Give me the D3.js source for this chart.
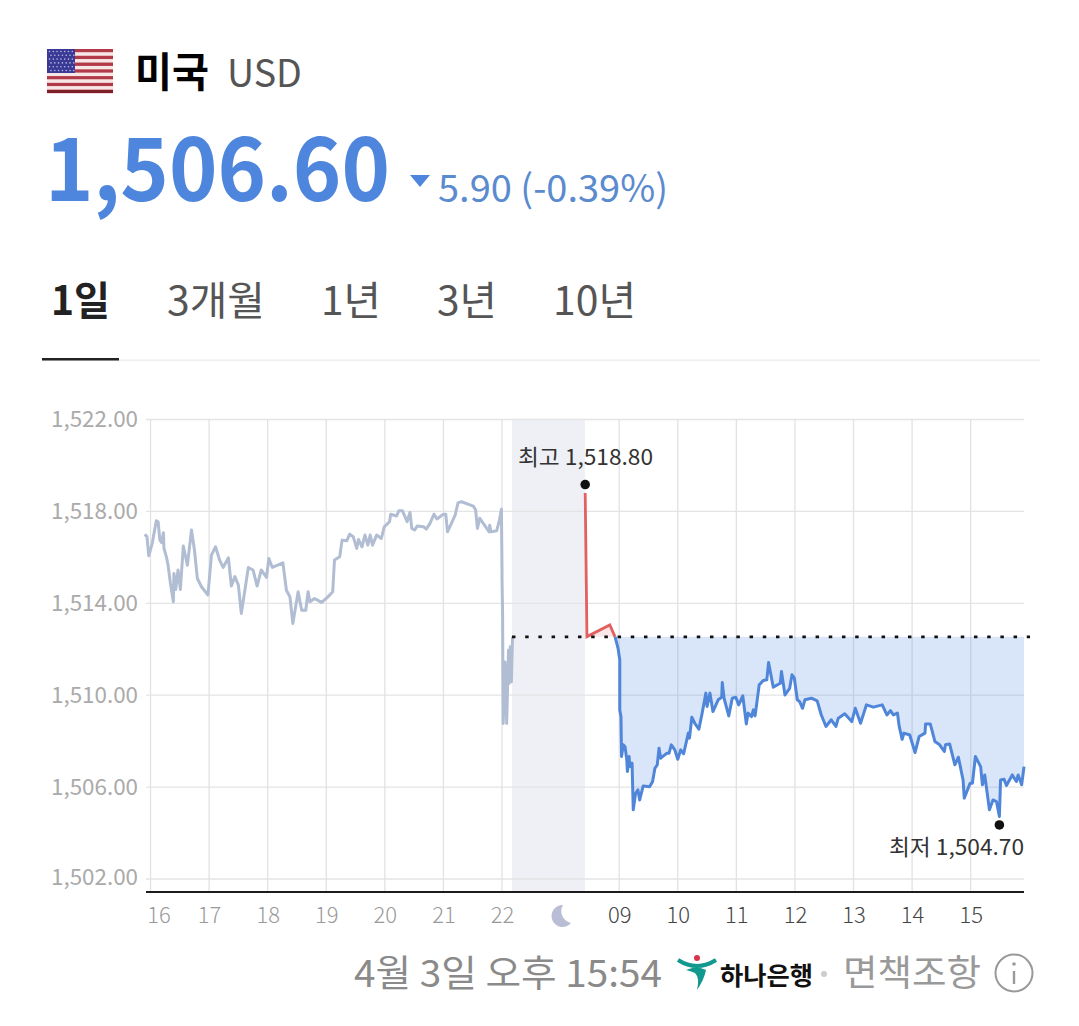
<!DOCTYPE html>
<html><head><meta charset="utf-8">
<script src="https://cdn.jsdelivr.net/npm/d3@7"></script>
<style>html,body{margin:0;padding:0;background:#fff}svg{display:block}text{font-family:"Noto Sans CJK KR","Noto Sans",sans-serif}</style>
</head><body><svg id="c" width="1079" height="1026"></svg>
<script>
const yTicks=[1522,1518,1514,1510,1506,1502];
const xTickPos=[0,1,2,3,4,5,6,8,9,10,11,12,13,14];
const xTickLabels=["16","17","18","19","20","21","22","09","10","11","12","13","14","15"];
const tabs=["1일","3개월","1년","3년","10년"];
const prevClose=1512.54;
const nightBand=[6.17,7.415];
const highPoint={t:7.42,v:1518.8,label:"최고 1,518.80"};
const lowPoint={t:14.49,v:1504.7,label:"최저 1,504.70"};
const preT=[-0.10,-0.06,-0.03,0.03,0.07,0.10,0.13,0.16,0.19,0.22,0.23,0.27,0.30,0.34,0.39,0.40,0.43,0.47,0.51,0.56,0.63,0.70,0.75,0.80,0.87,0.98,1.04,1.11,1.18,1.24,1.33,1.38,1.44,1.50,1.55,1.67,1.75,1.82,1.89,1.98,2.02,2.08,2.26,2.32,2.38,2.43,2.52,2.58,2.65,2.69,2.72,2.80,2.92,3.03,3.11,3.14,3.23,3.27,3.35,3.40,3.46,3.52,3.55,3.61,3.66,3.71,3.75,3.79,3.86,3.94,3.99,4.08,4.10,4.20,4.24,4.30,4.38,4.43,4.46,4.51,4.55,4.66,4.71,4.77,4.84,4.89,5.00,5.04,5.07,5.20,5.25,5.31,5.51,5.55,5.58,5.62,5.74,5.78,5.79,5.81,5.91,5.95,5.99,6.00,6.00,6.01,6.02,6.05,6.08,6.11,6.12,6.14,6.16,6.18];
const preV=[1517.00,1516.90,1516.07,1516.61,1517.19,1517.59,1517.55,1516.75,1516.64,1517.07,1516.39,1516.03,1515.66,1514.87,1514.07,1515.30,1514.60,1515.45,1514.60,1516.49,1515.66,1517.19,1516.32,1515.08,1514.72,1514.36,1516.10,1516.46,1515.88,1515.56,1515.98,1514.75,1515.16,1514.79,1513.56,1515.56,1515.45,1514.75,1515.45,1515.13,1515.95,1515.56,1515.76,1514.57,1514.28,1513.12,1514.50,1513.70,1513.70,1514.50,1514.07,1514.21,1514.04,1514.28,1514.50,1515.88,1516.03,1516.75,1516.72,1517.01,1516.90,1516.39,1516.78,1516.46,1516.97,1516.53,1516.97,1516.53,1516.97,1516.82,1517.33,1517.55,1517.88,1517.80,1518.03,1518.03,1517.55,1517.96,1517.26,1517.19,1517.36,1517.33,1517.23,1517.48,1517.88,1517.67,1517.88,1517.88,1517.11,1517.84,1518.38,1518.42,1518.23,1518.06,1517.26,1517.70,1517.26,1517.11,1517.40,1517.11,1517.16,1517.55,1518.09,1515.45,1515.08,1513.56,1508.77,1511.45,1508.77,1511.96,1510.51,1512.11,1510.58,1512.54];
const upT=[7.42,7.45,7.84,7.93];
const upV=[1518.8,1512.55,1513.06,1512.54];
const downT=[7.93,7.98,8.01,8.01,8.03,8.04,8.07,8.10,8.13,8.14,8.17,8.18,8.22,8.24,8.28,8.32,8.35,8.41,8.52,8.57,8.61,8.65,8.68,8.71,8.81,8.85,8.89,8.95,9.00,9.05,9.10,9.18,9.20,9.24,9.29,9.36,9.41,9.48,9.50,9.55,9.60,9.69,9.75,9.76,9.79,9.87,9.93,9.99,10.04,10.11,10.17,10.20,10.26,10.29,10.32,10.39,10.46,10.52,10.55,10.63,10.75,10.77,10.83,10.91,10.95,10.99,11.04,11.08,11.13,11.17,11.28,11.38,11.45,11.53,11.62,11.70,11.74,11.85,11.97,12.03,12.12,12.22,12.34,12.49,12.57,12.63,12.68,12.75,12.78,12.83,12.86,12.96,13.05,13.12,13.22,13.23,13.31,13.39,13.47,13.55,13.57,13.64,13.73,13.79,13.87,13.89,13.99,14.03,14.08,14.17,14.20,14.24,14.32,14.38,14.44,14.49,14.51,14.57,14.61,14.71,14.78,14.81,14.87,14.91];
const downV=[1512.54,1512.05,1511.54,1509.36,1509.07,1507.33,1507.84,1507.76,1507.18,1506.68,1507.33,1506.89,1507.04,1505.01,1505.73,1505.88,1505.44,1506.05,1506.02,1506.24,1506.82,1506.97,1507.69,1507.26,1507.47,1507.47,1507.84,1507.62,1507.21,1507.62,1507.45,1508.35,1508.13,1509.04,1508.78,1508.52,1509.14,1510.09,1509.51,1510.09,1509.29,1509.80,1509.91,1510.55,1509.87,1509.10,1509.87,1509.91,1509.58,1509.97,1508.75,1509.22,1509.07,1509.36,1509.10,1510.45,1510.64,1510.67,1511.42,1510.35,1510.52,1511.03,1510.01,1510.30,1510.89,1510.74,1509.80,1509.72,1509.43,1509.80,1509.87,1509.75,1509.14,1508.64,1508.93,1508.64,1509.00,1509.19,1508.85,1509.43,1508.78,1509.58,1509.48,1509.58,1509.14,1509.33,1509.14,1509.22,1508.64,1508.08,1508.35,1508.27,1507.50,1508.20,1508.35,1508.75,1508.75,1507.98,1507.84,1507.55,1507.84,1507.88,1506.97,1507.30,1506.31,1505.52,1506.17,1506.17,1507.33,1506.89,1506.10,1506.53,1505.01,1505.44,1505.37,1504.72,1506.31,1506.34,1506.07,1506.53,1506.24,1506.53,1506.10,1506.89];

const svg=d3.select("#c");
const font='"Noto Sans CJK KR","Noto Sans",sans-serif';
const x=d3.scaleLinear().domain([0,14.91]).range([150.5,1024]);
const y=d3.scaleLinear().domain([1522,1502]).range([419.5,879]);
const bottomY=892;

function txt(s,px,py,size,fill,weight,w){
  const t=svg.append("text").attr("x",px).attr("y",py).attr("font-size",size).attr("fill",fill)
    .attr("font-weight",weight||400).text(s);
  if(w) t.attr("textLength",w).attr("lengthAdjust","spacingAndGlyphs");
  return t;
}
// Header
const flag=svg.append("g");
d3.range(13).forEach(i=>flag.append("rect").attr("x",47).attr("y",49+i*44/13).attr("width",66).attr("height",44/13+.2)
  .attr("fill",i%2?"#f6e6e6":"#b23a48"));
flag.append("rect").attr("x",47).attr("y",49).attr("width",28).attr("height",24).attr("fill","#3a3a96");
d3.range(6).forEach(r=>d3.range(7).forEach(c=>flag.append("circle").attr("cx",49.5+c*3.8+(r%2)*1.5).attr("cy",51.5+r*3.8).attr("r",.8).attr("fill","#b9b9e0")));
flag.append("rect").attr("x",47).attr("y",90).attr("width",66).attr("height",3).attr("fill","#7d2027");
txt("미국",135,87,41,"#000",700,74);
txt("USD",227,87,38,"#555",400,75);
txt("1,506.60",45,201,88,"#4f86dd",700,345);
svg.append("path").attr("d","M410,175L430,175L420,187Z").attr("fill","#4f86dd");
txt("5.90 (-0.39%)",438,202,38,"#5b8bcf",400,230);
const tabX=[51,167,321,437,553], tabW=[59,98,60,60,83];
tabs.forEach((t,i)=>txt(t,tabX[i],315,40,i?"#555":"#222",i?400:700,tabW[i]));
svg.append("rect").attr("x",42).attr("y",359.5).attr("width",998).attr("height",1.5).attr("fill","#eeeeee");
svg.append("rect").attr("x",42).attr("y",358).attr("width",77).attr("height",2.5).attr("fill","#222");

// Night band
svg.append("rect").attr("x",x(nightBand[0])).attr("y",419).attr("width",x(nightBand[1])-x(nightBand[0])).attr("height",bottomY-419).attr("fill","#eff0f5");

// Y axis + grid
const ya=svg.append("g").attr("transform","translate(146,0)")
  .call(d3.axisLeft(y).tickValues(yTicks).tickSize(0).tickPadding(8).tickFormat(d=>d3.format(",.2f")(d)));
ya.select(".domain").remove();
ya.selectAll("text").attr("font-size",22.5).attr("fill","#aaaaaa").style("font-family",font).attr("x",-8).attr("dy","0.32em")
  .attr("textLength",87).attr("lengthAdjust","spacingAndGlyphs");
ya.selectAll(".tick").filter(d=>d===1502).select("text").attr("y",-2);
svg.append("g").selectAll("line").data(yTicks).join("line").attr("x1",146).attr("x2",1024)
  .attr("y1",d=>y(d)).attr("y2",d=>y(d)).attr("stroke","#e4e4e4").attr("stroke-width",1.3);

// X axis + grid
svg.append("g").selectAll("line").data(xTickPos).join("line").attr("x1",d=>x(d)).attr("x2",d=>x(d))
  .attr("y1",419).attr("y2",bottomY).attr("stroke","#e2e2e6").attr("stroke-width",1.3);
const xa=svg.append("g").attr("transform",`translate(0,${bottomY})`)
  .call(d3.axisBottom(x).tickValues(xTickPos).tickSize(0).tickPadding(15).tickFormat((d,i)=>xTickLabels[i]));
xa.select(".domain").remove();
xa.selectAll("text").attr("font-size",22).style("font-family",font).attr("font-weight",300)
  .attr("fill",d=>d<7?"#9a9a9a":"#444");
xa.selectAll(".tick").filter(d=>d===0).select("text").attr("x",8);
svg.append("line").attr("x1",146).attr("x2",1024).attr("y1",bottomY).attr("y2",bottomY).attr("stroke","#1c1c1c").attr("stroke-width",2.2);

// Moon
svg.append("path").attr("d","M563,905 A11,11 0 1 0 571,923 A12,12 0 0 1 563,905 Z").attr("fill","#b9bed6");

// Series
const zip=(t,v)=>t.map((d,i)=>({t:d,v:v[i]}));
const line=d3.line().x(d=>x(d.t)).y(d=>y(d.v));
const area=d3.area().x(d=>x(d.t)).y0(y(prevClose)).y1(d=>y(d.v));
const down=zip(downT,downV);
svg.append("path").attr("d",area(down)).attr("fill","#5b8fe0").attr("fill-opacity",0.23);
svg.append("path").attr("d",line(zip(preT,preV))).attr("fill","none").attr("stroke","#b1bdd3").attr("stroke-width",3).attr("stroke-linejoin","round");
svg.append("path").attr("d",area(zip(upT,upV))).attr("fill","#e05c5c").attr("fill-opacity",0.15);
svg.append("path").attr("d",line(zip(upT,upV))).attr("fill","none").attr("stroke","#e2605f").attr("stroke-width",2.8);
svg.append("path").attr("d",line(down)).attr("fill","none").attr("stroke","#4f86d9").attr("stroke-width",3).attr("stroke-linejoin","round");
svg.append("line").attr("x1",x(nightBand[0])).attr("x2",1030).attr("y1",y(prevClose)).attr("y2",y(prevClose))
  .attr("stroke","#111").attr("stroke-width",2.6).attr("stroke-dasharray","3.5 9.7");

// Hi / lo
svg.append("circle").attr("cx",x(highPoint.t)).attr("cy",y(highPoint.v)-8.5).attr("r",4.8).attr("fill","#111");
svg.append("circle").attr("cx",x(lowPoint.t)).attr("cy",y(lowPoint.v)+8).attr("r",4.8).attr("fill","#111");
txt(highPoint.label,518,465,22,"#333",400,135);
txt(lowPoint.label,889,855,22,"#333",400,135);

// Footer
txt("4월 3일 오후 15:54",354,987,37,"#8a8a8a",400,308);
const logo=svg.append("g");
logo.append("path").attr("d","M678,960 Q697,972 716,960").attr("fill","none").attr("stroke","#12998f").attr("stroke-width",4);
logo.append("path").attr("d","M686,970 Q697,965 706,970 Q704,980 697,990 Q700,978 695,973 Q690,971 686,970Z").attr("fill","#12998f");
logo.append("circle").attr("cx",697).attr("cy",958).attr("r",3).attr("fill","#d8344e");
txt("하나은행",720,985,25,"#111",700,93);
svg.append("circle").attr("cx",824).attr("cy",974).attr("r",3).attr("fill","#cccccc");
txt("면책조항",843,986,36,"#999",400,138);
svg.append("circle").attr("cx",1014).attr("cy",973).attr("r",18.5).attr("fill","none").attr("stroke","#999").attr("stroke-width",2);
svg.append("rect").attr("x",1012.8).attr("y",971).attr("width",2.4).attr("height",13).attr("fill","#999");
svg.append("circle").attr("cx",1014).attr("cy",964).attr("r",1.8).attr("fill","#999");
</script></body></html>
